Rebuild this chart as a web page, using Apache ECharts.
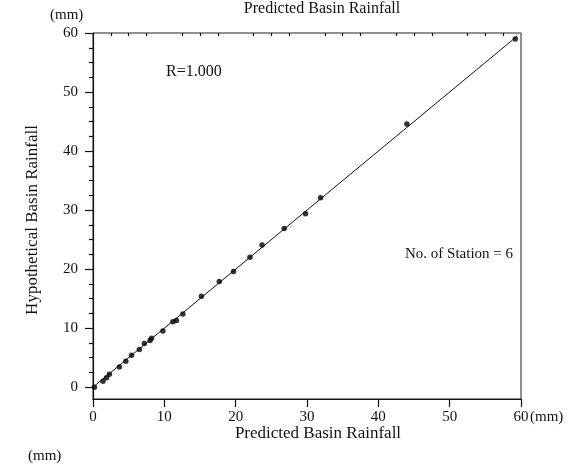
<!DOCTYPE html>
<html>
<head>
<meta charset="utf-8">
<script src="https://cdn.jsdelivr.net/npm/echarts@6/dist/echarts.min.js"></script>
<style>
  html, body { margin: 0; padding: 0; background: #fff; }
  #chart { width: 580px; height: 471px; }
</style>
</head>
<body>
<div id="chart"></div>
<script>
// Predicted vs. hypothetical basin rainfall (mm), one dot per event
const predicted    = [0.2, 1.4, 1.9, 2.3, 3.7, 4.6, 5.4, 6.5, 7.2, 8.0, 8.2, 9.8, 11.2, 11.7, 12.6, 15.2, 17.7, 19.7, 22.0, 23.7, 26.8, 29.8, 31.9, 44.0, 59.2];
const hypothetical = [0.0, 1.0, 1.6, 2.2, 3.4, 4.4, 5.4, 6.4, 7.4, 7.9, 8.3, 9.5, 11.1, 11.3, 12.4, 15.4, 17.9, 19.6, 22.0, 24.1, 26.9, 29.4, 32.1, 44.6, 59.0];

// fitted line (R = 1.000)
const fitX = [0, 59.5];
const fitY = [0, 59.5];

// axis ticks
const majorTicks = [0, 10, 20, 30, 40, 50, 60];
const minorTicks = [2.5, 5, 7.5, 12.5, 15, 17.5, 22.5, 25, 27.5, 32.5, 35, 37.5, 42.5, 45, 47.5, 52.5, 55, 57.5];

const serif = '"Liberation Serif", "Times New Roman", serif';
const ink = '#111';

const chart = echarts.init(document.getElementById('chart'), null, { renderer: 'canvas' });

const baseAxis = {
  type: 'value',
  splitLine: { show: false },
  axisLine: { show: true, onZero: false, lineStyle: { color: ink, width: 1.2 } }
};

chart.setOption({
  animation: false,
  backgroundColor: '#fff',
  grid: {
    left: 93, right: 59, top: 33, bottom: 72,
    show: true, borderColor: '#222', borderWidth: 1, backgroundColor: 'transparent'
  },
  xAxis: [
    Object.assign({}, baseAxis, {
      min: 0, max: 60,
      axisTick: { show: true, inside: false, length: 8, customValues: majorTicks, lineStyle: { color: ink, width: 1.2 } },
      axisLabel: { customValues: majorTicks, margin: 11, color: ink, fontFamily: serif, fontSize: 15 }
    }),
    Object.assign({}, baseAxis, {
      min: 0, max: 60,
      axisLine: { show: false, onZero: false },
      axisTick: { show: true, inside: true, length: 3, customValues: minorTicks, lineStyle: { color: ink, width: 1.2 } },
      axisLabel: { show: false }
    })
  ],
  yAxis: [
    Object.assign({}, baseAxis, {
      min: -2, max: 60,
      axisTick: { show: true, inside: false, length: 8, customValues: majorTicks, lineStyle: { color: ink, width: 1.2 } },
      axisLabel: { customValues: majorTicks, margin: 15, color: ink, fontFamily: serif, fontSize: 15 }
    }),
    Object.assign({}, baseAxis, {
      min: -2, max: 60, position: 'left',
      axisLine: { show: false, onZero: false },
      axisTick: { show: true, inside: false, length: 4, customValues: minorTicks, lineStyle: { color: ink, width: 1.2 } },
      axisLabel: { show: false }
    })
  ],
  series: [
    {
      type: 'line',
      data: fitX.map((x, i) => [x, fitY[i]]),
      symbol: 'none',
      lineStyle: { color: ink, width: 1 },
      silent: true,
      z: 2
    },
    {
      type: 'scatter',
      data: predicted.map((x, i) => [x, hypothetical[i]]),
      symbol: 'circle',
      symbolSize: 5.5,
      itemStyle: { color: '#000' },
      z: 3
    }
  ],
  graphic: [
    { type: 'text', x: 50, y: 15, style: { text: '(mm)', font: '15px ' + serif, fill: ink, verticalAlign: 'middle' } },
    { type: 'text', x: 322, y: 9, style: { text: 'Predicted Basin Rainfall', font: '16px ' + serif, fill: ink, align: 'center', verticalAlign: 'middle' } },
    { type: 'text', x: 318, y: 434, style: { text: 'Predicted Basin Rainfall', font: '17px ' + serif, fill: ink, align: 'center', verticalAlign: 'middle' } },
    { type: 'text', x: 28, y: 456, style: { text: '(mm)', font: '15px ' + serif, fill: ink, verticalAlign: 'middle' } },
    { type: 'text', x: 530, y: 417, style: { text: '(mm)', font: '15px ' + serif, fill: ink, verticalAlign: 'middle' } },
    { type: 'text', x: 33, y: 220, rotation: Math.PI / 2, style: { text: 'Hypothetical Basin Rainfall', font: '17px ' + serif, fill: ink, align: 'center', verticalAlign: 'middle' } },
    { type: 'text', x: 166, y: 72, style: { text: 'R=1.000', font: '16px ' + serif, fill: ink, verticalAlign: 'middle' } },
    { type: 'text', x: 405, y: 254, style: { text: 'No. of Station = 6', font: '15px ' + serif, fill: ink, verticalAlign: 'middle' } }
  ]
});
</script>
</body>
</html>
